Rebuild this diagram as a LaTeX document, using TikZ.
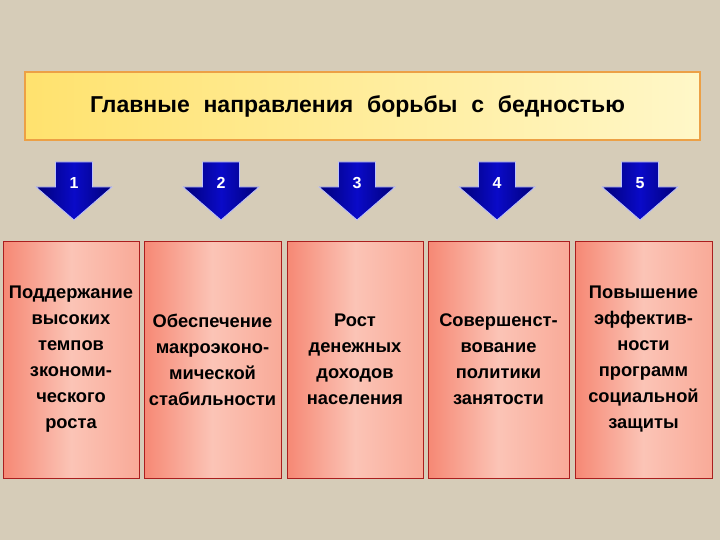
\documentclass[tikz,border=0pt]{standalone}
\usepackage{fontspec}
\setmainfont{Liberation Sans}
\definecolor{bg}{RGB}{214,204,184}
\definecolor{salmonA}{RGB}{246,136,116}
\definecolor{salmonB}{RGB}{251,196,182}
\definecolor{salmonC}{RGB}{249,170,152}
\definecolor{boxline}{RGB}{170,30,30}
\definecolor{titleA}{RGB}{255,226,110}
\definecolor{titleB}{RGB}{255,247,200}
\definecolor{titleline}{RGB}{236,160,70}
\definecolor{navy}{RGB}{0,0,120}
\definecolor{blueA}{RGB}{10,10,200}
\definecolor{arrowedge}{RGB}{190,195,255}
\tikzset{
  titlebox/.style={draw=titleline, line width=1.2pt, left color=titleA, right color=titleB,
    minimum width=675pt, minimum height=68pt, inner sep=0pt},
  titletext/.style={inner sep=0pt, font=\bfseries\fontsize{23}{27}\selectfont},
  itembox/.style={draw=boxline, line width=0.8pt, shading=axis, left color=salmonA, right color=salmonC, middle color=salmonB,
    minimum height=237pt, inner sep=1pt, align=center,
    font=\bfseries\fontsize{18.3}{26}\selectfont},
  arrowshape/.style={left color=navy, right color=navy, middle color=blueA, draw=arrowedge, line width=0.8pt, line join=miter},
  numlabel/.style={text=white, font=\bfseries\fontsize{16}{18}\selectfont, inner sep=0pt}
}
\newcommand{\downarrowat}[2]{%
  \path[arrowshape] (#1-18.5,162) -- (#1+18.5,162) -- (#1+18.5,187) -- (#1+38,187)
    -- (#1,220) -- (#1-38,187) -- (#1-18.5,187) -- cycle;
  \node[numlabel] (n#2) at (#1,183) {#2};}
\begin{document}
\begin{tikzpicture}[x=1pt,y=-1pt]
\fill[bg] (0,0) rectangle (720,540);
\useasboundingbox (0,0) rectangle (720,540);
\node[titlebox] (title) at (362.5,106) {};
\node[titletext] (titletxt) at (357.5,106) {Главные\hspace{0.6em}направления\hspace{0.6em}борьбы\hspace{0.6em}с\hspace{0.6em}бедностью};
\downarrowat{74}{1}
\downarrowat{221}{2}
\downarrowat{357}{3}
\downarrowat{497}{4}
\downarrowat{640}{5}
\node[itembox, minimum width=136pt, text width=134pt] (b1) at (71,359.5) {Поддержание\\высоких\\темпов\\зкономи-\\ческого\\роста};
\node[itembox, minimum width=137pt, text width=135pt] (b2) at (212.5,359.5) {Обеспечение\\макроэконо-\\мической\\стабильности};
\node[itembox, minimum width=136pt, text width=134pt] (b3) at (355,359.5) {Рост\\денежных\\доходов\\населения};
\node[itembox, minimum width=141pt, text width=139pt] (b4) at (498.5,359.5) {Совершенст-\\вование\\политики\\занятости};
\node[itembox, minimum width=137pt, text width=135pt] (b5) at (643.5,359.5) {Повышение\\эффектив-\\ности\\программ\\социальной\\защиты};
\end{tikzpicture}
\end{document}
